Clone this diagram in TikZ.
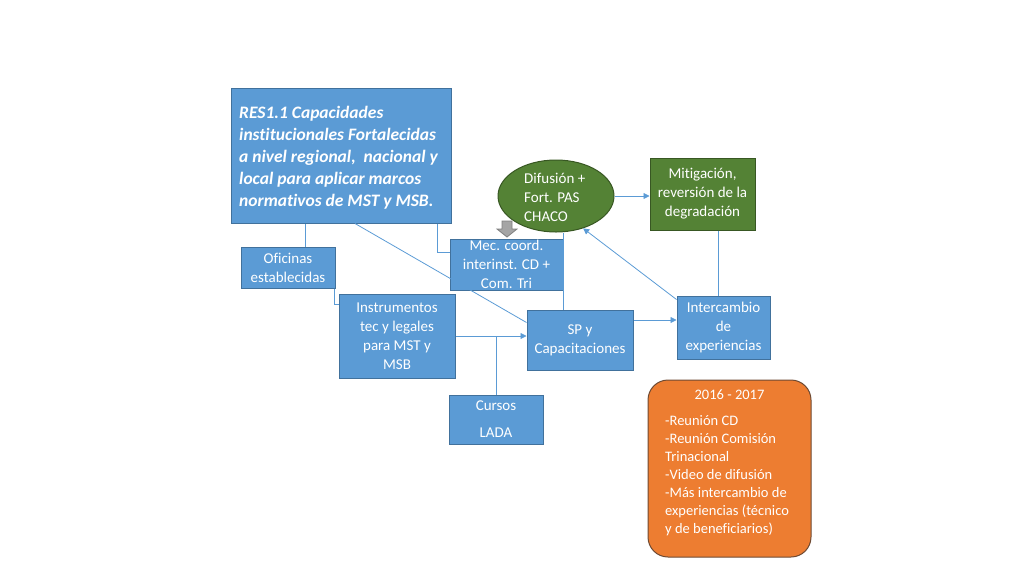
\documentclass[tikz,border=0pt]{standalone}
\usepackage{fontspec}
\setmainfont{Carlito}[Ligatures=NoCommon]
\usetikzlibrary{shapes.geometric,arrows.meta}
\definecolor{boxblue}{HTML}{5B9BD5}
\definecolor{boxborder}{HTML}{41719C}
\definecolor{dgreen}{HTML}{548235}
\definecolor{dgreenb}{HTML}{385723}
\definecolor{orng}{HTML}{ED7D31}
\definecolor{orngb}{HTML}{6E4A33}
\definecolor{linec}{HTML}{5B9BD5}
\definecolor{grayf}{HTML}{A5A5A5}
\definecolor{grayb}{HTML}{7F7F7F}
\tikzset{
  bbox/.style={draw=boxborder, fill=boxblue, line width=1pt, text=white, align=center,
    font=\fontsize{15}{19}\selectfont, inner sep=0pt},
  gbox/.style={draw=dgreenb, fill=dgreen, line width=1pt, text=white, align=center,
    font=\fontsize{15}{19}\selectfont, inner sep=0pt},
  conn/.style={draw=linec, line width=0.8pt},
  arr/.style={conn, -{Triangle[length=6pt,width=6pt]}},
}
\begin{document}
\begin{tikzpicture}[x=1pt,y=-1pt]
\useasboundingbox (0,0) rectangle (1024,576);
% boxes
\node[draw=boxborder, fill=boxblue, line width=1pt, minimum width=220, minimum height=135, inner sep=0pt] (RES) at (341,155.5) {};
\node[text=white, align=left, inner sep=0pt, anchor=west,
  font=\fontsize{17.5}{22}\selectfont\bfseries\itshape] (REST) at (239,158)
  {RES1.1 Capacidades\\institucionales Fortalecidas\\a nivel regional,\ \ nacional y\\local para aplicar marcos\\normativos de MST y MSB.};
\node[bbox, minimum width=94, minimum height=41] (Ofi) at (288,267.5) {Oficinas\\establecidas};
\node[bbox, minimum width=113, minimum height=51] (Mec) at (506.5,264.5) {Mec. coord.\\interinst. CD +\\Com. Tri};
\node[bbox, minimum width=116, minimum height=84] (Ins) at (397,336) {Instrumentos\\tec y legales\\para MST y\\MSB};
\node[bbox, minimum width=106, minimum height=60] (SP) at (580,340) {SP y\\Capacitaciones};
\node[bbox, minimum width=93, minimum height=63] (Int) at (723.5,327.5) {Intercambio\\de\\experiencias};
\node[bbox, minimum width=94, minimum height=49] (Cur) at (496,419.5) {Cursos\\[8pt]LADA};
\node[gbox, minimum width=105, minimum height=72] (Mit) at (702.5,194) {Mitigación,\\reversión de la\\degradación};
\node[ellipse, draw=dgreenb, fill=dgreen, line width=1pt, minimum width=116, minimum height=72, inner sep=0pt] (Dif) at (556,196) {};
\node[text=white, align=left, font=\fontsize{15}{19}\selectfont, inner sep=0pt, anchor=west] (DifT) at (524,197) {Difusión +\\Fort. PAS\\CHACO};
\node[draw=orngb, fill=orng, line width=1pt, rounded corners=20pt, minimum width=163, minimum height=177, inner sep=0pt] (Org) at (729.5,468.5) {};
\node[text=white, font=\fontsize{14.5}{18}\selectfont, inner sep=0pt] (OrgH) at (729.5,395) {2016 - 2017};
\node[text=white, align=left, font=\fontsize{14.5}{18}\selectfont, inner sep=0pt, anchor=west] (OrgT) at (665,476)
  {-Reunión CD\\-Reunión Comisión\\Trinacional\\-Video de difusión\\-Más intercambio de\\experiencias (técnico\\y de beneficiarios)};
% gray block arrow
\filldraw[fill=grayf, draw=grayb, line width=0.8pt] (502,221) -- (512,221) -- (512,229) -- (517,229) -- (507,237) -- (497,229) -- (502,229) -- cycle;
% connectors
\draw[conn] ([xshift=17pt]Ofi.north) -- ([xshift=17pt]Ofi.north |- RES.south);
\draw[conn] ([xshift=96pt]RES.south) |- ([yshift=12.5pt]Mec.west);
\draw[conn] ([xshift=14pt]RES.south) -- ([yshift=-13pt]SP.north west);
\draw[conn] ([xshift=-1pt]Ofi.south east) |- ([yshift=32pt]Ins.west);
\draw[arr] (Ins.east) -- (Ins.east -| SP.west);
\draw[conn] (Cur.north) -- (Cur.north |- Ins.east);
\draw[conn] ([xshift=7pt]Dif.south) -- ([xshift=7pt]Dif.south |- SP.north);
\draw[arr] ([yshift=20pt]SP.east) -- ([yshift=20pt]SP.east -| Int.west);
\draw[arr] ([yshift=-4pt]Int.north west) -- (Dif.-50);
\draw[conn] ([xshift=15.5pt]Mit.south) -- ([xshift=15.5pt]Mit.south |- Int.north);
\draw[arr] (Dif.east) -- (Dif.east -| Mit.west);
\end{tikzpicture}
\end{document}
